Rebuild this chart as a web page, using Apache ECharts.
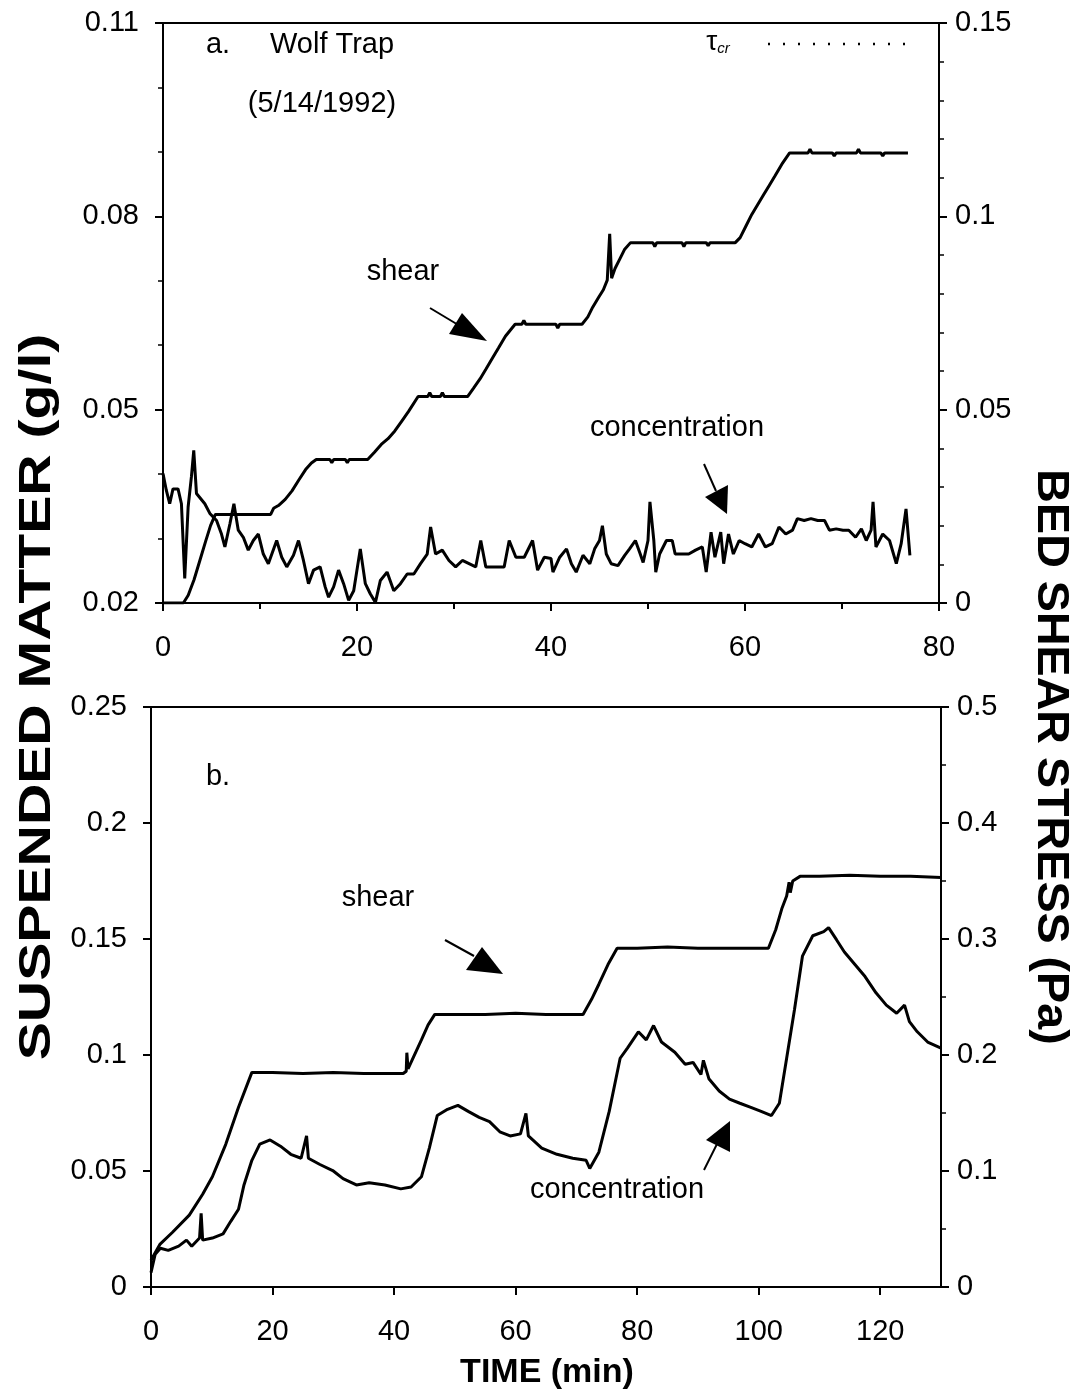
<!DOCTYPE html>
<html>
<head>
<meta charset="utf-8">
<script src="https://cdn.jsdelivr.net/npm/echarts@6/dist/echarts.min.js"></script>
<style>
html,body{margin:0;padding:0;background:#fff;}
#chart{width:1073px;height:1399px;}
</style>
</head>
<body>
<div id="chart"></div>
<script>
// ---------- Panel a: Wolf Trap (5/14/1992) ----------
const topConcTime = [0,0.34,0.69,1.03,1.55,1.9,2.24,2.59,2.93,3.17,3.45,4.31,4.83,5.52,6.03,6.38,6.9,7.31,7.76,8.28,8.79,9.31,9.83,10.34,10.86,11.72,12.24,12.76,13.45,13.97,14.48,15.0,15.52,16.2,16.72,17.07,17.59,18.1,18.62,19.14,19.66,20.34,20.86,21.38,21.9,22.41,23.1,23.79,24.48,25.17,25.86,26.55,27.24,27.59,28.1,28.79,29.48,30.17,30.86,31.55,32.24,32.76,33.28,34.14,35.17,35.69,36.38,37.24,38.1,38.62,39.31,40.0,
  40.2,40.9,41.6,42.1,42.6,43.3,44.0,44.5,45.0,45.3,45.7,46.2,46.9,47.6,48.1,48.7,49.2,49.5,50.0,50.2,50.6,50.8,51.2,51.9,52.5,52.8,53.5,54.2,54.9,55.6,56.0,56.5,56.9,57.5,57.8,58.3,58.8,59.4,60.0,60.7,61.4,62.1,62.8,63.5,64.2,64.9,65.4,66.1,66.8,67.5,68.2,68.7,69.4,70.1,70.7,71.4,72.0,72.5,73.0,73.2,73.5,74.2,74.9,75.6,76.1,76.6,77.0];
const topConc = [0.0401,0.0375,0.0354,0.0377,0.0377,0.0354,0.0238,0.0349,0.0396,0.0437,0.0370,0.0354,0.0339,0.0328,0.0307,0.0287,0.0323,0.0354,0.0313,0.0302,0.0282,0.0297,0.0307,0.0276,0.0261,0.0297,0.0271,0.0256,0.0274,0.0297,0.0266,0.0230,0.0251,0.0256,0.0225,0.0209,0.0225,0.0251,0.0230,0.0204,0.0219,0.0284,0.0230,0.0214,0.0201,0.0235,0.0248,0.0219,0.0230,0.0245,0.0245,0.0261,0.0276,0.0318,0.0276,0.0282,0.0266,0.0256,0.0266,0.0261,0.0256,0.0297,0.0256,0.0256,0.0256,0.0297,0.0271,0.0271,0.0297,0.0251,0.0271,0.0269,
  0.0248,0.0271,0.0284,0.0261,0.0248,0.0274,0.0261,0.0284,0.0297,0.0320,0.0276,0.0261,0.0258,0.0274,0.0284,0.0297,0.0276,0.0263,0.0297,0.0357,0.0297,0.0248,0.0276,0.0297,0.0297,0.0276,0.0276,0.0276,0.0282,0.0287,0.0248,0.0310,0.0271,0.0310,0.0261,0.0307,0.0276,0.0297,0.0292,0.0287,0.0307,0.0287,0.0292,0.0318,0.0307,0.0313,0.0331,0.0328,0.0331,0.0328,0.0328,0.0313,0.0315,0.0313,0.0313,0.0302,0.0315,0.0297,0.0313,0.0357,0.0287,0.0307,0.0297,0.0261,0.0292,0.0346,0.0274];

const topShearTime = [0,2.1,2.6,3.2,3.8,4.4,4.9,5.4,11.1,11.4,11.9,12.6,13.3,14.0,14.7,15.3,15.8,17.2,17.4,17.6,18.8,19.0,19.2,21.1,21.8,22.5,23.2,23.9,24.6,25.3,26.3,27.3,27.5,27.7,28.6,28.8,29.0,31.4,32.0,32.7,33.3,34.0,34.6,35.3,36.3,37.0,37.2,37.4,40.5,40.7,40.9,43.2,43.8,44.3,44.9,45.4,45.8,46.05,46.25,46.6,47.1,47.6,48.2,50.5,50.7,50.9,53.5,53.7,53.9,56.0,56.2,56.4,59.0,59.5,60.1,60.7,61.3,61.9,62.5,63.1,63.8,64.6,66.5,66.7,66.9,69.0,69.2,69.4,71.5,71.7,71.9,74.0,74.2,74.4,76.8];
const topShear = [0,0,0.002,0.006,0.011,0.016,0.020,0.0229,0.0229,0.0245,0.0252,0.0268,0.029,0.0318,0.0345,0.0362,0.0371,0.0371,0.0363,0.0371,0.0371,0.0363,0.0371,0.0371,0.039,0.041,0.0425,0.0445,0.047,0.0495,0.0534,0.0534,0.0544,0.0534,0.0534,0.0544,0.0534,0.0534,0.0555,0.058,0.0605,0.0635,0.066,0.069,0.0721,0.0721,0.0731,0.0721,0.0721,0.0711,0.0721,0.0721,0.074,0.0765,0.079,0.081,0.0835,0.0955,0.084,0.0865,0.089,0.0915,0.0932,0.0932,0.0922,0.0932,0.0932,0.0922,0.0932,0.0932,0.0924,0.0932,0.0932,0.0945,0.0975,0.1005,0.103,0.1055,0.108,0.1105,0.1135,0.1164,0.1164,0.1174,0.1164,0.1164,0.1156,0.1164,0.1164,0.1174,0.1164,0.1164,0.1156,0.1164,0.1164];

// ---------- Panel b ----------
const botConcTime = [0,0.69,1.55,2.84,4.55,5.84,6.7,7.99,8.25,8.5,10.1,11.86,13.1,14.4,15.3,16.6,17.9,19.6,21.3,23.0,24.7,25.6,25.9,27.8,29.9,31.6,33.8,35.9,38.5,41.1,42.8,44.5,45.8,47.1,48.8,50.5,52.2,54.0,55.7,57.4,59.1,60.8,61.7,62.1,64.3,66.8,69.4,71.6,72.2,73.7,75.4,77.2,78.4,80.2,81.5,82.7,84.0,86.2,87.9,89.2,90.5,90.9,91.8,93.5,95.2,96.9,98.6,100.4,102.1,103.4,104.6,105.9,107.2,108.9,110.7,111.5,112.8,114.1,115.8,117.5,119.3,121.0,122.7,124.0,124.8,126.1,127.8,130.0];
const botConc = [0.0062,0.0141,0.0167,0.0158,0.0176,0.0202,0.0176,0.0211,0.0317,0.0202,0.0211,0.0229,0.0282,0.0335,0.044,0.0546,0.0616,0.0634,0.0607,0.0572,0.0555,0.0651,0.0555,0.0528,0.0502,0.0467,0.044,0.0449,0.044,0.0423,0.0431,0.0475,0.0599,0.0739,0.0766,0.0783,0.0757,0.0731,0.0713,0.0669,0.0651,0.066,0.0748,0.0651,0.0599,0.0572,0.0555,0.0546,0.0511,0.0581,0.0757,0.0986,0.103,0.11,0.1065,0.1127,0.1056,0.1012,0.096,0.0968,0.0916,0.0977,0.0898,0.0845,0.081,0.0792,0.0775,0.0757,0.0739,0.0792,0.0986,0.1197,0.1426,0.1514,0.1532,0.1549,0.1497,0.1444,0.1391,0.1338,0.1268,0.1215,0.118,0.1215,0.1144,0.11,0.1056,0.103];

const botShearTime = [0,1.5,3.5,6.3,8.5,10.1,12.3,14.4,16.6,20,25,30,35,41.5,42.0,42.1,42.3,43.0,44.5,45.6,46.7,50,55,60,65,71.1,72.5,73.7,75.2,76.7,80,85,90,95,101.6,102.8,103.8,104.6,105.0,105.2,105.6,106.8,110,115,120,125,130];
const botShear = [0.023,0.037,0.047,0.062,0.080,0.095,0.123,0.155,0.185,0.185,0.184,0.185,0.184,0.184,0.186,0.202,0.188,0.196,0.213,0.226,0.235,0.235,0.235,0.236,0.235,0.235,0.248,0.261,0.278,0.292,0.292,0.293,0.292,0.292,0.292,0.308,0.326,0.337,0.349,0.340,0.350,0.354,0.354,0.355,0.354,0.354,0.353];

// tick label lists
const topLeftTicks = [0.02, 0.05, 0.08, 0.11];
const topRightTicks = [0, 0.05, 0.1, 0.15];
const botLeftTicks = [0, 0.05, 0.1, 0.15, 0.2, 0.25];
const botRightTicks = [0, 0.1, 0.2, 0.3, 0.4, 0.5];

const zip = (a, b) => a.map((t, i) => [t, b[i]]);

const FONT = '"Liberation Sans", Arial, Helvetica, sans-serif';
const labelStyle = { color: '#000', fontSize: 29, fontFamily: FONT };
const fmt = v => String(+(+v).toFixed(3));

function xAx(grid, max, minor) {
  return {
    type: 'value', gridIndex: grid, min: 0, max: max, interval: 20,
    axisLine: { lineStyle: { color: '#000', width: 2 } },
    axisTick: { length: 8, lineStyle: { color: '#000', width: 2 } },
    minorTick: { show: minor, splitNumber: 2, length: 6, lineStyle: { color: '#000', width: 2 } },
    splitLine: { show: false }, minorSplitLine: { show: false },
    axisLabel: Object.assign({ margin: 30, showMaxLabel: max !== 130, formatter: fmt }, labelStyle)
  };
}
function yAx(grid, pos, min, max, interval, minorSplit) {
  return {
    type: 'value', gridIndex: grid, position: pos, min: min, max: max, interval: interval,
    axisLine: { show: true, lineStyle: { color: '#000', width: 2 } },
    axisTick: { show: true, length: 8, lineStyle: { color: '#000', width: 2 } },
    minorTick: { show: minorSplit > 0, splitNumber: minorSplit || 2, length: 5, lineStyle: { color: '#000', width: 1.5 } },
    splitLine: { show: false },
    axisLabel: Object.assign({ margin: pos === 'left' ? 24 : 16, formatter: fmt }, labelStyle)
  };
}

const lineSeries = (name, xi, yi, data) => ({
  name: name, type: 'line', xAxisIndex: xi, yAxisIndex: yi, data: data,
  showSymbol: false, symbol: 'none', animation: false,
  lineStyle: { color: '#000', width: 3 }
});

function arrow(line, tri) {
  return [
    { type: 'line', shape: { x1: line[0], y1: line[1], x2: line[2], y2: line[3] }, style: { stroke: '#000', lineWidth: 2 } },
    { type: 'polygon', shape: { points: tri }, style: { fill: '#000' } }
  ];
}
function txt(x, y, s, size, extra) {
  extra = extra || {};
  const el = { type: 'text', x: x, y: y,
    style: { text: s, fill: '#000', font: (extra.bold ? 'bold ' : '') + size + 'px ' + FONT, textAlign: 'center', textVerticalAlign: 'middle' } };
  if (extra.rotation !== undefined) el.rotation = extra.rotation;
  if (extra.scaleX !== undefined) el.scaleX = extra.scaleX;
  return el;
}

const chart = echarts.init(document.getElementById('chart'), null, { renderer: 'canvas' });
chart.setOption({
  backgroundColor: '#fff',
  animation: false,
  grid: [
    { left: 163, top: 23, width: 776, height: 580, show: true, borderColor: '#000', borderWidth: 2, backgroundColor: 'transparent' },
    { left: 151, top: 707, width: 790, height: 580, show: true, borderColor: '#000', borderWidth: 2, backgroundColor: 'transparent' }
  ],
  xAxis: [xAx(0, 80, true), xAx(1, 130, false)],
  yAxis: [
    yAx(0, 'left', topLeftTicks[0], topLeftTicks[topLeftTicks.length - 1], 0.03, 3),
    yAx(0, 'right', topRightTicks[0], topRightTicks[topRightTicks.length - 1], 0.05, 5),
    yAx(1, 'left', botLeftTicks[0], botLeftTicks[botLeftTicks.length - 1], 0.05, 0),
    yAx(1, 'right', botRightTicks[0], botRightTicks[botRightTicks.length - 1], 0.1, 2)
  ],
  series: [
    lineSeries('concentration a', 0, 0, zip(topConcTime, topConc)),
    lineSeries('shear a', 0, 1, zip(topShearTime, topShear)),
    lineSeries('concentration b', 1, 2, zip(botConcTime, botConc)),
    lineSeries('shear b', 1, 3, zip(botShearTime, botShear))
  ],
  graphic: [
    txt(218, 45, 'a.', 29),
    txt(332, 45, 'Wolf Trap', 29),
    txt(322, 104, '(5/14/1992)', 29),
    { type: 'text', x: 718, y: 42, style: { rich: { t: { font: '28px ' + FONT, fill: '#000' }, s: { font: 'italic 15px ' + FONT, fill: '#000', padding: [14, 0, 0, 0] } }, text: '{t|τ}{s|cr}', textAlign: 'center', textVerticalAlign: 'middle' } },
    { type: 'line', shape: { x1: 768, y1: 44, x2: 905, y2: 44 }, style: { stroke: '#000', lineWidth: 2.5, lineDash: [2, 13] } },
    txt(403, 272, 'shear', 29),
    ...arrow([430, 308, 460, 326], [[462, 313], [449, 334], [487, 341]]),
    txt(677, 428, 'concentration', 29),
    ...arrow([704, 464, 716, 491], [[728, 485], [705, 497], [727, 514]]),
    txt(218, 777, 'b.', 29),
    txt(378, 898, 'shear', 29),
    ...arrow([445, 940, 474, 956], [[482, 947], [466, 970], [503, 974]]),
    txt(617, 1190, 'concentration', 29),
    ...arrow([704, 1170, 717, 1144], [[730, 1121], [706, 1140], [730, 1152]]),
    txt(547, 1373, 'TIME (min)', 34, { bold: true }),
    txt(38, 697, 'SUSPENDED MATTER (g/l)', 44, { bold: true, rotation: Math.PI / 2, scaleX: 1.3 }),
    txt(1050, 757, 'BED SHEAR STRESS (Pa)', 44, { bold: true, rotation: -Math.PI / 2, scaleX: 1.06 })
  ]
});
</script>
</body>
</html>
